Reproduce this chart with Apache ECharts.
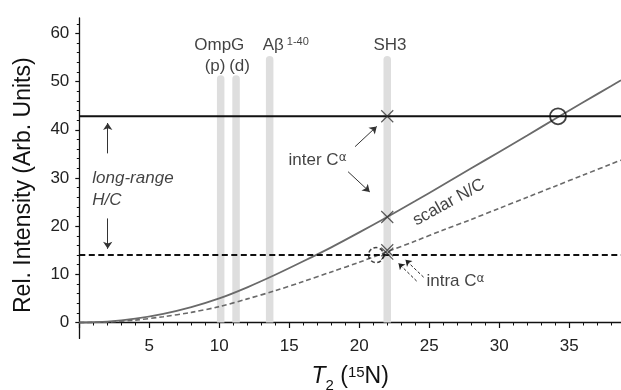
<!DOCTYPE html>
<html><head><meta charset="utf-8">
<script src="https://cdn.jsdelivr.net/npm/echarts@6/dist/echarts.min.js"></script>
<style>html,body{margin:0;padding:0;background:#fff}#c{width:621px;height:390px}</style>
</head><body><div id="c"></div>
<script>
// ---- data ----
const t2Values   = [0, 2, 4, 6, 8, 10, 12, 14, 16, 18, 20, 22, 24, 26, 28, 30, 32, 34, 36, 38, 38.7];
const scalarNC   = [0, 0.2, 0.8, 1.8, 3.2, 5.0, 7.3, 9.9, 12.7, 15.6, 18.7, 21.9, 25.2, 28.6, 32.0, 35.4, 38.8, 42.3, 45.7, 49.1, 50.3];
const scalarNCLow= [0, 0.1, 0.5, 1.2, 2.1, 3.3, 4.9, 6.6, 8.5, 10.5, 12.5, 14.7, 16.9, 19.2, 21.4, 23.7, 26.0, 28.3, 30.6, 32.9, 33.7];
const interLevel = 42.8;   // long-range H/C (solid)
const intraLevel = 14.0;   // long-range H/C (dashed)
const xTickLabels = [5, 10, 15, 20, 25, 30, 35];
const yTickLabels = [0, 10, 20, 30, 40, 50, 60];
const proteinNames = ['OmpG (p)', 'OmpG (d)', 'Aβ 1-40', 'SH3'];
const proteinT2    = [10.1, 11.2, 13.6, 22.0];
const proteinTop   = [51.3, 51.3, 55.3, 55.3];
const crossT2      = [22, 22, 22, 22];
const crossI       = [42.8, 21.9, 14.3, 15.0];
const openCircle   = [34.2, 42.8];
const dashedCircle = [21.2, 14.0];

// ---- helpers ----
const FONT = "'Liberation Sans', Arial, Helvetica, sans-serif";
const X_MIN = 0, X_MAX = 38.7, Y_MIN = -3.3, Y_MAX = 63.2;
const xMinor = []; for (let v = 1; v < X_MAX; v++) if (v % 5) xMinor.push(v);
const yMinor = []; for (let v = 2; v < Y_MAX; v += 2) if (v % 10) yMinor.push(v);
const axisColor = '#111';

const chart = echarts.init(document.getElementById('c'), null, {renderer: 'canvas'});

const richCommon = {
  n: {fontSize: 17, fontFamily: FONT, color: '#111'},
  s: {fontSize: 11, fontFamily: FONT, color: '#111', verticalAlign: 'top', lineHeight: 12},
  g: {fontSize: 12, fontFamily: 'DejaVu Sans', color: '#111', verticalAlign: 'top', lineHeight: 12},
  it: {fontSize: 17, fontFamily: FONT, fontStyle: 'italic', color: '#111'}
};

function textPt(x, y, text, align, opts) {
  return {
    value: [x, y],
    label: Object.assign({
      show: true, formatter: text, position: [0, 0], align: align || 'center', verticalAlign: 'middle',
      rich: richCommon, fontSize: 17, fontFamily: FONT, color: '#111'
    }, opts || {})
  };
}

const annotations = [
  textPt(10.0, 57.6, '{n|OmpG}'),
  textPt(9.7, 53.1, '{n|(p)}'),
  textPt(11.45, 53.1, '{n|(d)}'),
  textPt(13.1, 57.6, '{n|Aβ}{s| 1-40}', 'left'),
  textPt(22.2, 57.6, '{n|SH3}'),
  textPt(14.95, 33.6, '{n|inter C}{g|α}', 'left'),
  textPt(26.4, 24.9, '{n|scalar N/C}', 'center', {rotate: 29}),
  textPt(0.93, 29.9, '{it|long-range}', 'left'),
  textPt(0.93, 25.4, '{it|H/C}', 'left'),
  textPt(24.8, 8.5, '{n|intra C}{g|α}', 'left')
];

const option = {
  animation: false,
  grid: {left: 79.3, right: 0, top: 18, bottom: 51.6, containLabel: false, outerBoundsMode: 'none'},
  xAxis: [
    {
      type: 'value', min: X_MIN, max: X_MAX, position: 'bottom',
      axisLine: {show: true, onZero: true, lineStyle: {color: axisColor, width: 1.3}},
      axisTick: {show: true, customValues: [0].concat(xTickLabels), length: 5.5, lineStyle: {color: axisColor, width: 1.2}},
      axisLabel: {customValues: xTickLabels, margin: -1, fontSize: 17, fontFamily: FONT, color: '#222'},
      splitLine: {show: false},
      name: '{i|T}{sub|2}{r| (}{sup|15}{r|N)}', nameLocation: 'middle', nameGap: 27,
      nameTextStyle: {
        rich: {
          i: {fontSize: 23, fontFamily: FONT, fontStyle: 'italic', color: '#111', lineHeight: 26, verticalAlign: 'top'},
          r: {fontSize: 23, fontFamily: FONT, color: '#111', lineHeight: 26, verticalAlign: 'top'},
          sub: {fontSize: 15, fontFamily: FONT, color: '#111', lineHeight: 40},
          sup: {fontSize: 15, fontFamily: FONT, color: '#111', lineHeight: 16, verticalAlign: 'top'}
        }
      }
    },
    {
      type: 'value', min: X_MIN, max: X_MAX, position: 'bottom',
      axisLine: {show: false, onZero: true},
      axisTick: {show: true, customValues: xMinor, length: 3, lineStyle: {color: axisColor, width: 1}},
      axisLabel: {show: false}, splitLine: {show: false}
    }
  ],
  yAxis: [
    {
      type: 'value', min: Y_MIN, max: Y_MAX, position: 'left',
      axisLine: {show: true, onZero: false, lineStyle: {color: axisColor, width: 1.3}},
      axisTick: {show: true, customValues: yTickLabels, length: 4, lineStyle: {color: axisColor, width: 1.2}},
      axisLabel: {customValues: yTickLabels, margin: 10, fontSize: 17, fontFamily: FONT, color: '#222'},
      splitLine: {show: false},
      name: 'Rel. Intensity (Arb. Units)', nameLocation: 'middle', nameGap: 44,
      nameTextStyle: {fontSize: 23, fontFamily: FONT, color: '#111', padding: [0, 14, 0, 0]}
    },
    {
      type: 'value', min: Y_MIN, max: Y_MAX, position: 'left',
      axisLine: {show: false, onZero: false},
      axisTick: {show: true, customValues: yMinor, length: 2.5, lineStyle: {color: axisColor, width: 1}},
      axisLabel: {show: false}, splitLine: {show: false}
    }
  ],
  series: [
    {
      name: 'proteins', type: 'custom', z: 1,
      data: proteinT2.map((x, i) => [x, proteinTop[i], proteinNames[i]]),
      renderItem: function (params, api) {
        const p0 = api.coord([api.value(0), 0]);
        const p1 = api.coord([api.value(0), api.value(1)]);
        const w = 7.5;
        return {type: 'rect', shape: {x: p0[0] - w / 2, y: p1[1], width: w, height: p0[1] - p1[1], r: [w / 2, w / 2, 0, 0]},
                style: {fill: '#dedede'}};
      }
    },
    {
      name: 'scalar N/C', type: 'line', z: 3, showSymbol: false, smooth: 0.3,
      data: t2Values.map((x, i) => [x, scalarNC[i]]),
      lineStyle: {color: '#6a6a6a', width: 1.8}
    },
    {
      name: 'scalar N/C (low)', type: 'line', z: 3, showSymbol: false, smooth: 0.3,
      data: t2Values.map((x, i) => [x, scalarNCLow[i]]),
      lineStyle: {color: '#6a6a6a', width: 1.6, type: [5, 3]}
    },
    {
      name: 'long-range solid', type: 'line', z: 4, showSymbol: false,
      data: [[X_MIN, interLevel], [X_MAX, interLevel]],
      lineStyle: {color: '#111', width: 2}
    },
    {
      name: 'long-range dashed', type: 'line', z: 4, showSymbol: false,
      data: [[X_MIN, intraLevel], [X_MAX, intraLevel]],
      lineStyle: {color: '#111', width: 2, type: [6, 3.5]}
    },
    {
      name: 'crosses', type: 'scatter', z: 6,
      symbol: 'path://M0,0L10,10M10,0L0,10', symbolSize: 12,
      data: crossT2.map((x, i) => [x, crossI[i]]),
      itemStyle: {color: 'none', borderColor: '#333', borderWidth: 1.2}
    },
    {
      name: 'open circle', type: 'scatter', z: 6, symbol: 'circle', symbolSize: 16,
      data: [openCircle],
      itemStyle: {color: 'rgba(0,0,0,0)', borderColor: '#111', borderWidth: 1.8}
    },
    {
      name: 'dashed circle', type: 'scatter', z: 6, symbol: 'circle', symbolSize: 15,
      data: [dashedCircle],
      itemStyle: {color: 'rgba(0,0,0,0)', borderColor: '#111', borderWidth: 1.6, borderType: [4, 2.5]}
    },
    {
      name: 'arrows', type: 'lines', coordinateSystem: 'cartesian2d', z: 7,
      symbol: ['none', 'arrow'], symbolSize: 7,
      lineStyle: {color: '#333', width: 1, opacity: 1},
      data: [
        {coords: [[2.03, 35.1], [2.03, 41.4]]},
        {coords: [[2.03, 21.6], [2.03, 15.3]]},
        {coords: [[19.7, 36.5], [21.25, 40.7]]},
        {coords: [[19.2, 31.3], [20.75, 27.1]]}
      ]
    },
    {
      name: 'intra arrows', type: 'lines', coordinateSystem: 'cartesian2d', z: 7,
      symbol: ['none', 'arrow'], symbolSize: 6,
      lineStyle: {color: '#222', width: 1, type: [3, 2], opacity: 1},
      data: [
        {coords: [[24.1, 8.6], [22.8, 12.3]]},
        {coords: [[24.6, 9.4], [23.3, 13.0]]}
      ]
    },
    {
      name: 'annotations', type: 'scatter', z: 8, symbolSize: 0, silent: true,
      data: annotations
    }
  ]
};
chart.setOption(option);
</script>
</body></html>
